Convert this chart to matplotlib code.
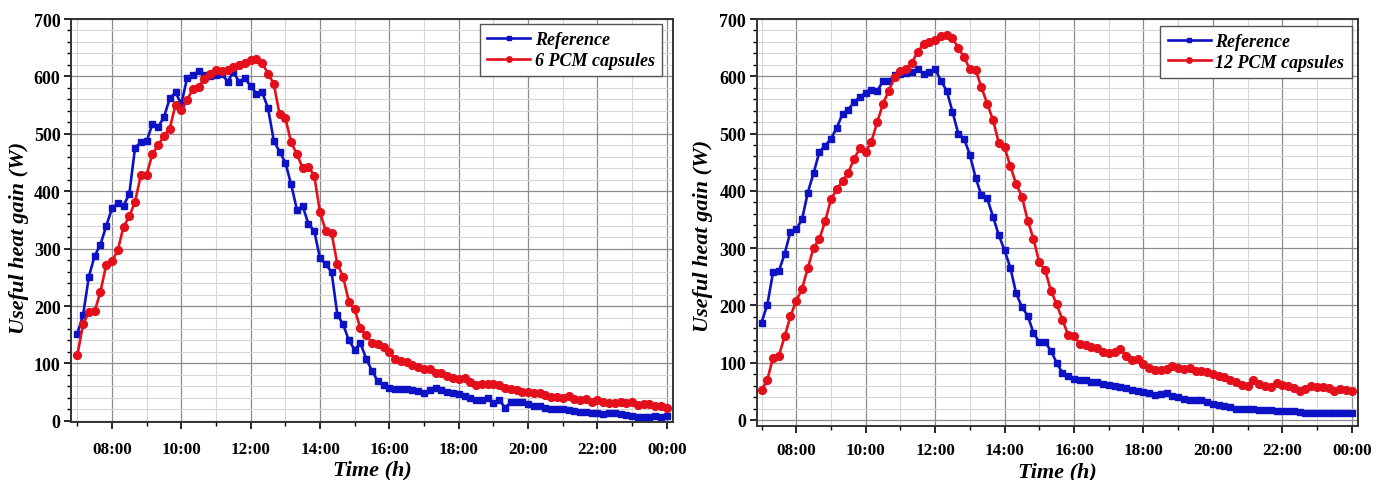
import numpy as np
import matplotlib
matplotlib.use("Agg")
import matplotlib.pyplot as plt
from matplotlib.ticker import MultipleLocator, FixedLocator

plt.rcParams['font.family'] = ['Liberation Serif', 'DejaVu Serif']
plt.rcParams['font.weight'] = 'bold'

# Time step: 10 minutes, from 07:00 to 24:00
start_hour = 7.0
step_h = 1.0 / 6.0

# ---- Left panel: Reference vs 6 PCM capsules ----
left_reference = [
    152, 184, 251, 287, 307, 339,      # 07
    370, 379, 375, 395, 476, 485,      # 08
    487, 517, 512, 529, 562, 572,      # 09
    552, 597, 603, 609, 602, 600,      # 10
    603, 605, 591, 607, 591, 597,      # 11
    583, 570, 572, 545, 488, 469,      # 12
    450, 412, 368, 374, 343, 331,      # 13
    283, 273, 259, 185, 168, 140,      # 14
    124, 135, 108, 87, 69, 62,         # 15
    58, 56, 56, 55, 54, 52,            # 16
    49, 54, 58, 54, 50, 48,            # 17
    46, 43, 40, 37, 37, 40,            # 18
    31, 37, 23, 32, 33, 32,            # 19
    29, 26, 25, 23, 21, 20,            # 20
    20, 19, 17, 16, 16, 14,            # 21
    14, 12, 13, 13, 12, 10,            # 22
    9, 7, 6, 6, 9, 7,                  # 23
    9,                                 # 24
]
left_pcm6 = [
    114, 168, 190, 191, 224, 272,      # 07
    278, 297, 338, 356, 382, 428,      # 08
    429, 465, 480, 497, 509, 551,      # 09
    541, 559, 578, 582, 596, 604,      # 10
    611, 610, 611, 617, 620, 624,      # 11
    629, 631, 623, 605, 587, 534,      # 12
    528, 485, 465, 440, 443, 427,      # 13
    363, 331, 327, 273, 251, 207,      # 14
    194, 161, 149, 136, 133, 128,      # 15
    120, 107, 105, 102, 97, 94,        # 16
    90, 91, 83, 84, 78, 74,            # 17
    73, 75, 67, 62, 64, 65,            # 18
    64, 62, 58, 55, 53, 50,            # 19
    50, 48, 49, 45, 42, 42,            # 20
    40, 43, 38, 37, 38, 33,            # 21
    36, 33, 31, 31, 32, 31,            # 22
    32, 27, 29, 29, 26, 25,            # 23
    23,                                # 24
]

# ---- Right panel: Reference vs 12 PCM capsules ----
right_reference = [
    170, 201, 258, 260, 290, 329,      # 07
    333, 350, 397, 431, 468, 479,      # 08
    491, 510, 534, 542, 555, 564,      # 09
    571, 576, 574, 592, 591, 603,      # 10
    604, 605, 608, 612, 604, 607,      # 11
    613, 592, 575, 538, 500, 491,      # 12
    463, 423, 392, 387, 355, 323,      # 13
    296, 266, 221, 197, 182, 152,      # 14
    136, 136, 121, 100, 82, 76,        # 15
    72, 70, 69, 67, 66, 63,            # 16
    61, 59, 57, 55, 53, 51,            # 17
    48, 47, 44, 45, 47, 42,            # 18
    40, 37, 35, 35, 35, 32,            # 19
    28, 26, 24, 22, 20, 20,            # 20
    19, 19, 18, 18, 17, 16,            # 21
    16, 16, 15, 14, 13, 13,            # 22
    12, 12, 12, 12, 12, 12,            # 23
    12,                                # 24
]
right_pcm12 = [
    52, 70, 109, 112, 146, 181,        # 07
    208, 229, 265, 301, 316, 347,      # 08
    385, 403, 417, 432, 456, 474,      # 09
    468, 486, 520, 552, 575, 598,      # 10
    610, 612, 624, 643, 656, 660,      # 11
    664, 670, 672, 666, 650, 633,      # 12
    613, 611, 581, 552, 524, 484,      # 13
    476, 443, 412, 390, 348, 316,      # 14
    275, 262, 226, 202, 175, 148,      # 15
    146, 133, 131, 127, 125, 119,      # 16
    117, 118, 124, 112, 105, 107,      # 17
    98, 90, 88, 88, 89, 95,            # 18
    90, 89, 90, 86, 86, 83,            # 19
    80, 77, 75, 69, 66, 61,            # 20
    60, 69, 63, 59, 57, 65,            # 21
    61, 59, 55, 51, 54, 60,            # 22
    57, 57, 55, 51, 54, 53,            # 23
    51,                                # 24
]

x_tick_hours = [8, 10, 12, 14, 16, 18, 20, 22, 24]
x_tick_labels = ["08:00", "10:00", "12:00", "14:00", "16:00", "18:00", "20:00", "22:00", "00:00"]
x_minor_hours = [7, 9, 11, 13, 15, 17, 19, 21, 23]
y_ticks = [0, 100, 200, 300, 400, 500, 600, 700]

BLUE = '#0d12c4'
RED = '#e3101c'

fig = plt.figure(figsize=(13.82, 4.81), dpi=100)
ax1 = fig.add_axes([0.0514, 0.1206, 0.4356, 0.8378])
ax2 = fig.add_axes([0.5475, 0.1129, 0.4349, 0.8455])

panels = [
    (ax1, left_reference, left_pcm6, "6 PCM capsules", (6.82, 24.18), (-2, 700),
     (0.9817, 0.9876), 8.5, (-0.070, 0.46)),
    (ax2, right_reference, right_pcm12, "12 PCM capsules", (6.86, 24.17), (-10, 700),
     (0.990, 0.983), 7.0, (-0.072, 0.47)),
]

for ax, ref, pcm, pcm_label, xl, yl, leg_anchor, xpad, ylab_xy in panels:
    t_ref = start_hour + np.arange(len(ref)) * step_h
    t_pcm = start_hour + np.arange(len(pcm)) * step_h
    ax.plot(t_ref, ref, color=BLUE, lw=1.9, marker='s', ms=4.8,
            mec=BLUE, mfc=BLUE, label="Reference", zorder=3)
    ax.plot(t_pcm, pcm, color=RED, lw=1.9, marker='o', ms=5.6,
            mec=RED, mfc=RED, label=pcm_label, zorder=4)
    ax.set_xlim(*xl)
    ax.set_ylim(*yl)
    ax.xaxis.set_major_locator(FixedLocator(x_tick_hours))
    ax.xaxis.set_minor_locator(FixedLocator(x_minor_hours))
    ax.set_xticklabels(x_tick_labels)
    ax.yaxis.set_major_locator(FixedLocator(y_ticks))
    ax.yaxis.set_minor_locator(MultipleLocator(20))
    ax.grid(which='major', color='#8c8c8c', lw=0.9, zorder=0)
    ax.grid(which='minor', color='#d6d6d6', lw=0.8, zorder=0)
    ax.set_axisbelow(True)
    ax.tick_params(which='major', direction='out', length=5, width=1.2,
                   top=False, right=False)
    ax.tick_params(which='minor', direction='out', length=3, width=1.0,
                   top=False, right=False)
    ax.tick_params(axis='x', which='major', labelsize=12.3, pad=xpad)
    ax.tick_params(axis='y', which='major', labelsize=13, pad=2.5)
    for lab in ax.get_xticklabels() + ax.get_yticklabels():
        lab.set_fontweight('bold')
    for sp in ax.spines.values():
        sp.set_color('#333333')
        sp.set_linewidth(1.4)
    ax.set_xlabel("Time (h)", fontsize=16, fontweight='bold', style='italic', labelpad=2)
    ax.set_ylabel("Useful heat gain (W)", fontsize=16, fontweight='bold', style='italic')
    ax.yaxis.set_label_coords(*ylab_xy)
    leg = ax.legend(loc='upper right', bbox_to_anchor=leg_anchor, borderaxespad=0,
                    prop={'weight': 'bold', 'style': 'italic', 'size': 13},
                    handlelength=2.4, handletextpad=0.25, borderpad=0.4, labelspacing=0.2,
                    fancybox=False, framealpha=1, edgecolor='#555555', markerscale=0.7)
    leg.get_frame().set_linewidth(1.0)

fig.savefig("out.png", dpi=100)
